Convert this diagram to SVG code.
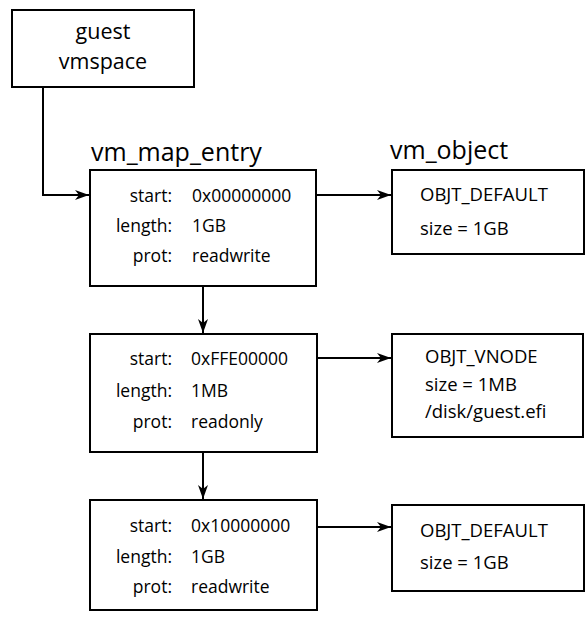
<svg xmlns="http://www.w3.org/2000/svg" width="588" height="618" viewBox="0 0 588 618">
  <style>
    .box { fill: #ffffff; stroke: #000000; stroke-width: 2; }
    .edge { fill: none; stroke: #000000; stroke-width: 2; }
    text { font-family: "Open Sans", "DejaVu Sans", sans-serif; fill: #000000; }
    .title { font-size: 25px; }
    .big { font-size: 21.5px; text-anchor: middle; }
    .key { font-size: 17.5px; text-anchor: end; }
    .val { font-size: 17.5px; }
    .obj { font-size: 18.5px; }
  </style>
  <defs>
    <marker id="arrow" viewBox="0 0 14 10" refX="14" refY="5" markerWidth="14" markerHeight="10" markerUnits="userSpaceOnUse" orient="auto">
      <path d="M0,0 L14,5 L0,10 L4,5 Z" fill="#000000"/>
    </marker>
  </defs>
  <rect width="588" height="618" fill="#ffffff"/>

  <!-- connectors -->
  <g id="connectors">
    <path class="edge" d="M43,87 V195 H89" marker-end="url(#arrow)"/>
    <path class="edge" d="M316,195 H391" marker-end="url(#arrow)"/>
    <path class="edge" d="M203,286 V333" marker-end="url(#arrow)"/>
    <path class="edge" d="M317,358 H391" marker-end="url(#arrow)"/>
    <path class="edge" d="M203,452 V499" marker-end="url(#arrow)"/>
    <path class="edge" d="M317,527 H391" marker-end="url(#arrow)"/>
  </g>

  <!-- guest vmspace -->
  <g id="guest-vmspace">
    <rect class="box" x="12" y="10" width="182" height="77"/>
    <text class="big" x="103" y="39">guest</text>
    <text class="big" x="103" y="69">vmspace</text>
  </g>

  <text class="title" x="91" y="161">vm_map_entry</text>
  <text class="title" x="390" y="159">vm_object</text>

  <!-- map entry 1 -->
  <g id="map-entry-1">
    <rect class="box" x="90" y="170" width="226" height="116"/>
    <text class="key" x="172" y="202">start:</text>
    <text class="val" x="192" y="202">0x00000000</text>
    <text class="key" x="172" y="232">length:</text>
    <text class="val" x="192" y="232">1GB</text>
    <text class="key" x="172" y="262">prot:</text>
    <text class="val" x="192" y="262">readwrite</text>
  </g>

  <!-- map entry 2 -->
  <g id="map-entry-2">
    <rect class="box" x="90" y="334" width="227" height="118"/>
    <text class="key" x="172" y="365">start:</text>
    <text class="val" x="191" y="365">0xFFE00000</text>
    <text class="key" x="172" y="397">length:</text>
    <text class="val" x="191" y="397">1MB</text>
    <text class="key" x="172" y="428">prot:</text>
    <text class="val" x="191" y="428">readonly</text>
  </g>

  <!-- map entry 3 -->
  <g id="map-entry-3">
    <rect class="box" x="90" y="500" width="227" height="110"/>
    <text class="key" x="172" y="532">start:</text>
    <text class="val" x="191" y="532">0x10000000</text>
    <text class="key" x="172" y="563">length:</text>
    <text class="val" x="191" y="563">1GB</text>
    <text class="key" x="172" y="593">prot:</text>
    <text class="val" x="191" y="593">readwrite</text>
  </g>

  <!-- vm objects -->
  <g id="object-1">
    <rect class="box" x="392" y="170" width="192" height="84"/>
    <text class="obj" x="420" y="201">OBJT_DEFAULT</text>
    <text class="obj" x="420" y="235">size = 1GB</text>
  </g>

  <g id="object-2">
    <rect class="box" x="392" y="334" width="191" height="103"/>
    <text class="obj" x="425" y="363">OBJT_VNODE</text>
    <text class="obj" x="425" y="391">size = 1MB</text>
    <text class="obj" x="425" y="418">/disk/guest.efi</text>
  </g>

  <g id="object-3">
    <rect class="box" x="392" y="505" width="192" height="86"/>
    <text class="obj" x="420" y="537">OBJT_DEFAULT</text>
    <text class="obj" x="420" y="569">size = 1GB</text>
  </g>
</svg>
